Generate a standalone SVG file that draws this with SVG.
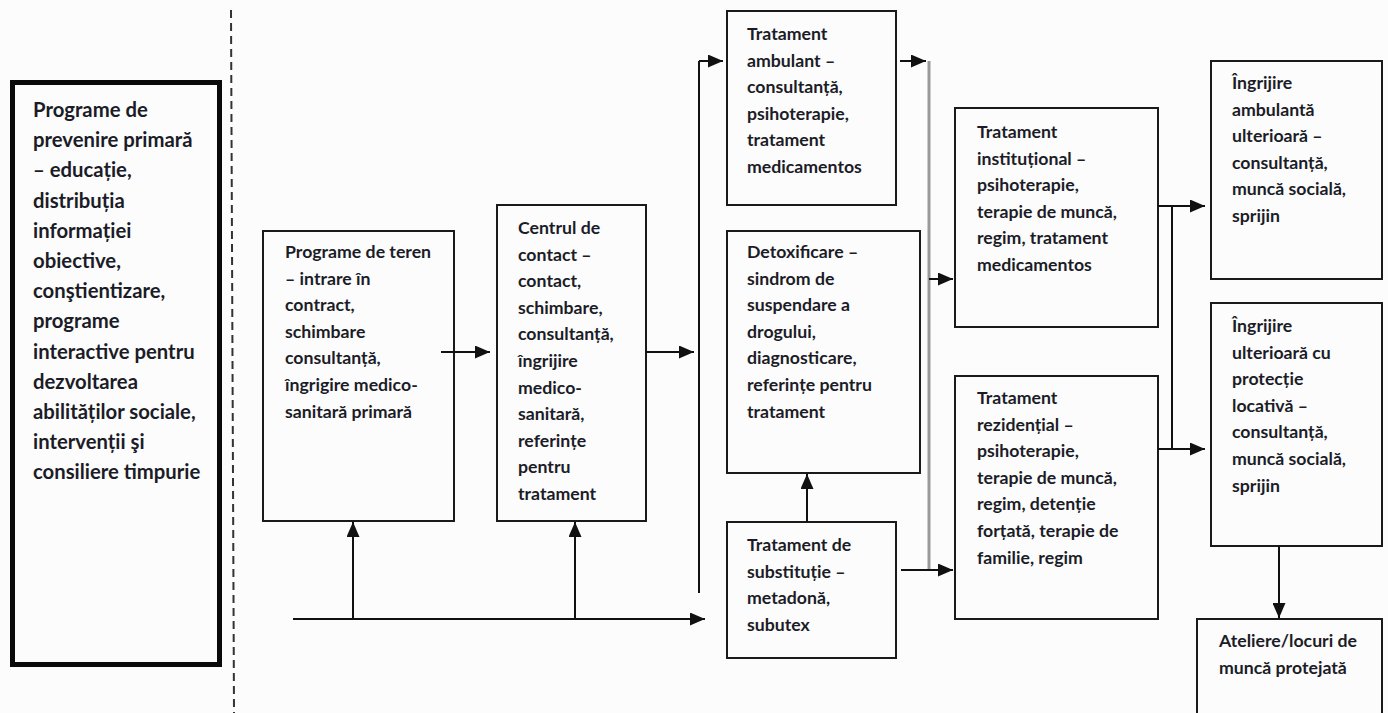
<svg xmlns="http://www.w3.org/2000/svg" width="1388" height="713" viewBox="0 0 1388 713">
<defs>
<marker id="ah" markerUnits="userSpaceOnUse" markerWidth="15" markerHeight="13" refX="15" refY="6.5" orient="auto">
<path d="M0,0 L15,6.5 L0,13 z" fill="#111"/>
</marker>
<style>
.box{fill:none;stroke:#1a1a1a;stroke-width:2}
.t{font-family:Lato,"Liberation Sans",sans-serif;font-weight:bold;font-size:17.7px;fill:#1c1c28}
.tl{font-size:20.3px}
.c{fill:none;stroke:#111;stroke-width:2}
.cg{fill:none;stroke:#999;stroke-width:3}
.a{marker-end:url(#ah)}
</style>
</defs>
<rect width="1388" height="713" fill="#fbfcfb"/>
<line x1="231" y1="10" x2="234" y2="713" stroke="#333" stroke-width="2" stroke-dasharray="8 5"/>

<g id="prevenire">
<rect x="12.5" y="82.5" width="207" height="582" fill="none" stroke="#0a0a0a" stroke-width="5"/>
<text class="t tl" x="33" y="117">
<tspan x="33">Programe de</tspan>
<tspan x="33" dy="30.2">prevenire primară</tspan>
<tspan x="33" dy="30.2">– educație,</tspan>
<tspan x="33" dy="30.2">distribuția</tspan>
<tspan x="33" dy="30.2">informației</tspan>
<tspan x="33" dy="30.2">obiective,</tspan>
<tspan x="33" dy="30.2">conştientizare,</tspan>
<tspan x="33" dy="30.2">programe</tspan>
<tspan x="33" dy="30.2">interactive pentru</tspan>
<tspan x="33" dy="30.2">dezvoltarea</tspan>
<tspan x="33" dy="30.2">abilităților sociale,</tspan>
<tspan x="33" dy="30.2">intervenții şi</tspan>
<tspan x="33" dy="30.2">consiliere timpurie</tspan>
</text>
</g>

<g id="teren">
<rect class="box" x="263" y="231" width="191" height="290"/>
<text class="t" y="258">
<tspan x="285">Programe de teren</tspan>
<tspan x="285" dy="26.6">– intrare în</tspan>
<tspan x="285" dy="26.6">contract,</tspan>
<tspan x="285" dy="26.6">schimbare</tspan>
<tspan x="285" dy="26.6">consultanță,</tspan>
<tspan x="285" dy="26.6">îngrigire medico-</tspan>
<tspan x="285" dy="26.6">sanitară primară</tspan>
</text>
</g>

<g id="contact">
<rect class="box" x="497" y="205" width="149" height="316"/>
<text class="t" y="234">
<tspan x="518">Centrul de</tspan>
<tspan x="518" dy="26.6">contact –</tspan>
<tspan x="518" dy="26.6">contact,</tspan>
<tspan x="518" dy="26.6">schimbare,</tspan>
<tspan x="518" dy="26.6">consultanță,</tspan>
<tspan x="518" dy="26.6">îngrijire</tspan>
<tspan x="518" dy="26.6">medico-</tspan>
<tspan x="518" dy="26.6">sanitară,</tspan>
<tspan x="518" dy="26.6">referințe</tspan>
<tspan x="518" dy="26.6">pentru</tspan>
<tspan x="518" dy="26.6">tratament</tspan>
</text>
</g>

<g id="ambulant">
<rect class="box" x="727" y="11" width="169" height="194"/>
<text class="t" y="40">
<tspan x="747">Tratament</tspan>
<tspan x="747" dy="26.6">ambulant –</tspan>
<tspan x="747" dy="26.6">consultanță,</tspan>
<tspan x="747" dy="26.6">psihoterapie,</tspan>
<tspan x="747" dy="26.6">tratament</tspan>
<tspan x="747" dy="26.6">medicamentos</tspan>
</text>
</g>

<g id="detox">
<rect class="box" x="727" y="231" width="193" height="242"/>
<text class="t" y="258">
<tspan x="747">Detoxificare –</tspan>
<tspan x="747" dy="26.6">sindrom de</tspan>
<tspan x="747" dy="26.6">suspendare a</tspan>
<tspan x="747" dy="26.6">drogului,</tspan>
<tspan x="747" dy="26.6">diagnosticare,</tspan>
<tspan x="747" dy="26.6">referințe pentru</tspan>
<tspan x="747" dy="26.6">tratament</tspan>
</text>
</g>

<g id="substitutie">
<rect class="box" x="727" y="522" width="169" height="136"/>
<text class="t" y="551">
<tspan x="747">Tratament de</tspan>
<tspan x="747" dy="26.6">substituție –</tspan>
<tspan x="747" dy="26.6">metadonă,</tspan>
<tspan x="747" dy="26.6">subutex</tspan>
</text>
</g>

<g id="institutional">
<rect class="box" x="955" y="108" width="203" height="219"/>
<text class="t" y="138">
<tspan x="977">Tratament</tspan>
<tspan x="977" dy="26.6">instituțional –</tspan>
<tspan x="977" dy="26.6">psihoterapie,</tspan>
<tspan x="977" dy="26.6">terapie de muncă,</tspan>
<tspan x="977" dy="26.6">regim, tratament</tspan>
<tspan x="977" dy="26.6">medicamentos</tspan>
</text>
</g>

<g id="rezidential">
<rect class="box" x="955" y="376" width="203" height="243"/>
<text class="t" y="404">
<tspan x="977">Tratament</tspan>
<tspan x="977" dy="26.6">rezidențial –</tspan>
<tspan x="977" dy="26.6">psihoterapie,</tspan>
<tspan x="977" dy="26.6">terapie de muncă,</tspan>
<tspan x="977" dy="26.6">regim, detenție</tspan>
<tspan x="977" dy="26.6">forțată, terapie de</tspan>
<tspan x="977" dy="26.6">familie, regim</tspan>
</text>
</g>

<g id="ingrijire-ambulanta">
<rect class="box" x="1211" y="61" width="171" height="218"/>
<text class="t" y="89">
<tspan x="1232">Îngrijire</tspan>
<tspan x="1232" dy="26.6">ambulantă</tspan>
<tspan x="1232" dy="26.6">ulterioară –</tspan>
<tspan x="1232" dy="26.6">consultanță,</tspan>
<tspan x="1232" dy="26.6">muncă socială,</tspan>
<tspan x="1232" dy="26.6">sprijin</tspan>
</text>
</g>

<g id="ingrijire-protectie">
<rect class="box" x="1211" y="303" width="171" height="243"/>
<text class="t" y="332">
<tspan x="1232">Îngrijire</tspan>
<tspan x="1232" dy="26.6">ulterioară cu</tspan>
<tspan x="1232" dy="26.6">protecție</tspan>
<tspan x="1232" dy="26.6">locativă –</tspan>
<tspan x="1232" dy="26.6">consultanță,</tspan>
<tspan x="1232" dy="26.6">muncă socială,</tspan>
<tspan x="1232" dy="26.6">sprijin</tspan>
</text>
</g>

<g id="ateliere">
<rect class="box" x="1197" y="619" width="185" height="110"/>
<text class="t" y="647">
<tspan x="1219">Ateliere/locuri de</tspan>
<tspan x="1219" dy="27">muncă protejată</tspan>
</text>
</g>

<g id="connectors">
<line class="c a" x1="441" y1="352" x2="490" y2="352"/>
<line class="c a" x1="646" y1="352" x2="694" y2="352"/>
<line class="c" x1="699" y1="61" x2="699" y2="593"/>
<line class="c a" x1="699" y1="61" x2="723" y2="61"/>
<line class="c a" x1="293" y1="619" x2="705" y2="619"/>
<line class="c a" x1="353" y1="619" x2="353" y2="522"/>
<line class="c a" x1="575" y1="619" x2="575" y2="522"/>
<line class="c a" x1="900" y1="61" x2="926" y2="61"/>
<line class="cg" x1="929" y1="61" x2="929" y2="570"/>
<line class="c a" x1="929" y1="279" x2="953" y2="279"/>
<line class="c a" x1="901" y1="570" x2="953" y2="570"/>
<line class="c a" x1="807" y1="522" x2="807" y2="474"/>
<line class="c a" x1="1158" y1="206" x2="1205" y2="206"/>
<line class="c" x1="1172" y1="206" x2="1172" y2="449"/>
<line class="c a" x1="1158" y1="449" x2="1205" y2="449"/>
<line class="c a" x1="1279" y1="546" x2="1279" y2="618"/>
</g>
</svg>
